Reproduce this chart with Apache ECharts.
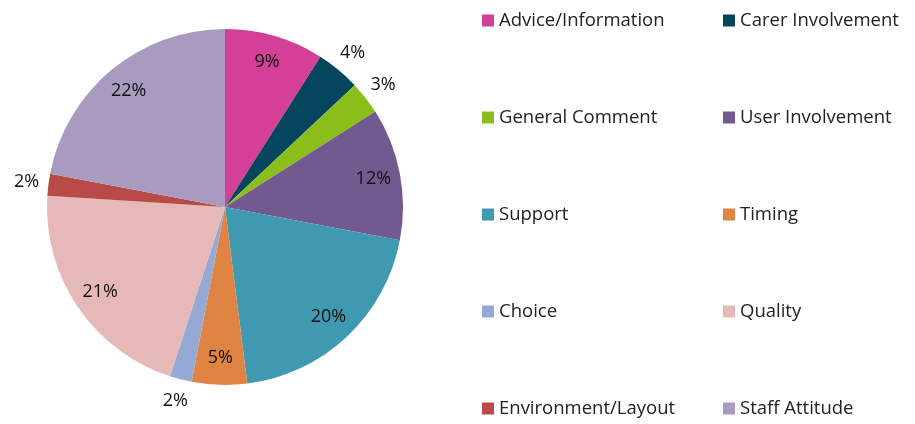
<!DOCTYPE html>
<html>
<head>
<meta charset="utf-8">
<script src="https://cdn.jsdelivr.net/npm/echarts@6/dist/echarts.min.js"></script>
<style>
  html, body { margin: 0; padding: 0; background: #fff; }
  #main { width: 915px; height: 424px; }
</style>
</head>
<body>
<div id="main"></div>
<script>
// categories in clockwise order from 12 o'clock
var categories = ['Advice/Information', 'Carer Involvement', 'General Comment', 'User Involvement',
  'Support', 'Timing', 'Choice', 'Quality', 'Environment/Layout', 'Staff Attitude'];
var shares = [9, 4, 3, 12, 20, 5, 2, 21, 2, 22];
var colours = ['#D43F97', '#05465E', '#8BBE1A', '#725A91', '#3F9AB1',
  '#DF8443', '#96A9D4', '#E6B9B8', '#B84B48', '#A99BBF'];

var font = 'Open Sans';
var chart = echarts.init(document.getElementById('main'));

var slices = categories.map(function (c, i) {
  return { name: c, value: shares[i], itemStyle: { color: colours[i] } };
});
// labels for big slices sit inside, small ones just outside the rim
var innerLabels = categories.map(function (c, i) {
  return { name: c, value: shares[i], label: { show: shares[i] >= 5 } };
});
var outerLabels = categories.map(function (c, i) {
  return { name: c, value: shares[i], label: { show: shares[i] < 5 } };
});

var legendBase = {
  orient: 'vertical',
  icon: 'rect',
  itemWidth: 12,
  itemHeight: 12,
  itemGap: 78,
  padding: 0,
  selectedMode: false,
  textStyle: { fontFamily: font, fontSize: 18.5, color: '#222' }
};

var labelSeries = function (radius, data) {
  return {
    type: 'pie', silent: true, center: [225, 207], radius: radius,
    startAngle: 90, clockwise: true,
    itemStyle: { color: 'rgba(0,0,0,0)' },
    label: { position: 'inside', formatter: '{c}%', fontFamily: font, fontSize: 18, color: '#111' },
    labelLine: { show: false },
    emphasis: { disabled: true },
    data: data
  };
};

chart.setOption({
  animation: false,
  legend: [
    Object.assign({}, legendBase, { left: 482, top: 11, data: categories.filter(function (c, i) { return i % 2 === 0; }) }),
    Object.assign({}, legendBase, { left: 723, top: 11, data: categories.filter(function (c, i) { return i % 2 === 1; }) })
  ],
  series: [
    {
      type: 'pie',
      center: [225, 207],
      radius: [0, 178],
      startAngle: 90,
      clockwise: true,
      label: { show: false },
      labelLine: { show: false },
      emphasis: { disabled: true },
      data: slices
    },
    labelSeries([118, 178], innerLabels),
    labelSeries([178, 216], outerLabels)
  ]
});
</script>
</body>
</html>
